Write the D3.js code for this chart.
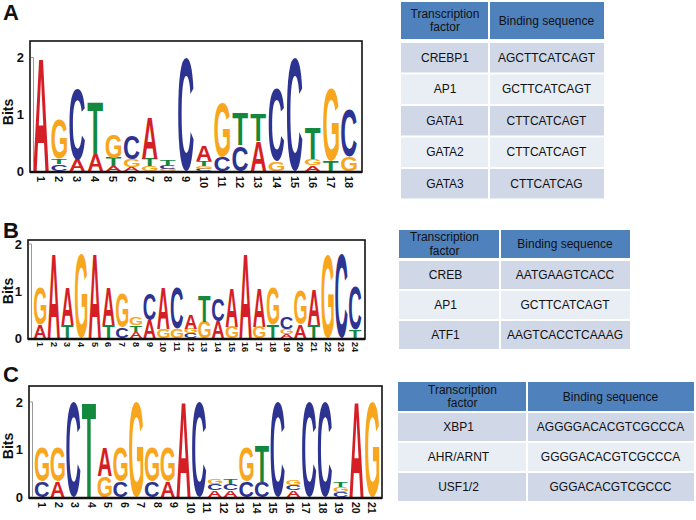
<!DOCTYPE html>
<html><head><meta charset="utf-8">
<script src="https://cdn.jsdelivr.net/npm/d3@7"></script>
<style>html,body{margin:0;padding:0;background:#fff;}svg{display:block;}</style>
</head><body>
<svg id="chart" width="696" height="520"></svg>
<script>
// ---------- DATA ----------
// Sequence logo columns, letters listed bottom -> top with height in bits
const logoA = [
  [["A",2.0]],
  [["C",0.12],["T",0.10],["G",0.70]],
  [["A",0.20],["C",1.25]],
  [["A",0.30],["T",0.91]],
  [["A",0.08],["T",0.15],["G",0.42]],
  [["A",0.06],["G",0.14],["C",0.41]],
  [["G",0.08],["T",0.13],["A",0.72]],
  [["G",0.04],["C",0.06],["T",0.08]],
  [["C",2.0]],
  [["C",0.04],["G",0.05],["T",0.08],["A",0.27]],
  [["C",0.25],["G",0.95]],
  [["C",0.45],["T",0.56]],
  [["A",0.52],["T",0.49]],
  [["G",0.17],["C",1.28]],
  [["C",2.0]],
  [["A",0.10],["G",0.12],["T",0.54]],
  [["T",0.17],["G",1.28]],
  [["G",0.25],["C",0.83]]
];
const logoB = [
  [["A",0.28],["G",0.79]],
  [["A",1.80]],
  [["T",0.28],["A",0.79]],
  [["G",1.80]],
  [["A",1.80]],
  [["T",0.28],["A",0.79]],
  [["C",0.22],["G",0.72]],
  [["A",0.13],["T",0.14],["G",0.16]],
  [["A",0.38],["C",0.57]],
  [["G",0.20],["A",0.87]],
  [["G",0.20],["C",0.87]],
  [["C",0.10],["G",0.10],["A",0.30]],
  [["G",0.35],["T",0.56]],
  [["A",0.35],["C",0.46]],
  [["G",0.24],["A",0.83]],
  [["A",1.80]],
  [["G",0.24],["A",0.83]],
  [["T",0.28],["G",0.79]],
  [["A",0.08],["G",0.10],["C",0.25]],
  [["A",0.28],["G",0.74]],
  [["T",0.28],["A",0.74]],
  [["G",1.77]],
  [["C",1.80]],
  [["T",0.17],["C",0.92]]
];
const logoC = [
  [["C",0.32],["G",0.73]],
  [["A",0.32],["G",0.73]],
  [["C",2.0]],
  [["T",2.0]],
  [["G",0.45],["A",0.60]],
  [["C",0.32],["G",0.73]],
  [["G",2.0]],
  [["C",0.32],["G",0.73]],
  [["A",0.32],["G",0.73]],
  [["A",2.0]],
  [["C",2.0]],
  [["A",0.14],["C",0.14],["G",0.10]],
  [["A",0.14],["C",0.14],["T",0.10]],
  [["C",0.32],["G",0.73]],
  [["C",0.32],["T",0.77]],
  [["C",2.0]],
  [["A",0.14],["C",0.12],["G",0.10]],
  [["C",2.0]],
  [["C",2.0]],
  [["C",0.10],["G",0.12],["T",0.10]],
  [["A",2.0]],
  [["G",2.0]]
];
const positionsA = d3.range(1, 19).map(String);
const positionsB = d3.range(1, 25).map(String);
const positionsC = d3.range(1, 22).map(String);
const bitTicks = [0, 1, 2];

const headerCols = ["Transcription\nfactor", "Binding sequence"];
const factorsA = ["CREBP1", "AP1", "GATA1", "GATA2", "GATA3"];
const sequencesA = ["AGCTTCATCAGT", "GCTTCATCAGT", "CTTCATCAGT", "CTTCATCAGT", "CTTCATCAG"];
const factorsB = ["CREB", "AP1", "ATF1"];
const sequencesB = ["AATGAAGTCACC", "GCTTCATCAGT", "AAGTCACCTCAAAG"];
const factorsC = ["XBP1", "AHR/ARNT", "USF1/2"];
const sequencesC = ["AGGGGACACGTCGCCCA", "GGGGACACGTCGCCCA", "GGGACACGTCGCCC"];

// ---------- STYLE ----------
const FONT = "'Liberation Sans', Arial, Helvetica, sans-serif";
const letterColor = {A: "#d51f26", C: "#2d3391", G: "#f8a61d", T: "#13893d"};
const svg = d3.select("#chart");

// glyph ink metrics
const ctx = document.createElement("canvas").getContext("2d");
ctx.font = "bold 100px " + FONT;
const fallback = {A:[0.5,72.4,71.6,0], C:[4,68,73,1.5], G:[4,73,73,1.5], T:[2,59,71.6,0]};
const metrics = {};
["A","C","G","T"].forEach(L => {
  const m = ctx.measureText(L);
  let l = m.actualBoundingBoxLeft, r = m.actualBoundingBoxRight, a = m.actualBoundingBoxAscent, d = m.actualBoundingBoxDescent;
  if (!(r > 0 && a > 0)) { [l, r, a, d] = fallback[L]; l = -l; }
  metrics[L] = {left: l, right: r, ascent: a, descent: d};
});

function drawLogo(cfg) {
  const g = svg.append("g");
  const x = d3.scaleBand().domain(d3.range(cfg.columns.length)).range(cfg.colRange).paddingInner(0);
  const xl = d3.scalePoint().domain(cfg.positions).range(cfg.labelRange);
  const y = d3.scaleLinear().domain([0, 2]).range([cfg.y0, cfg.y2]);
  const cw = x.bandwidth() * cfg.widthFrac;

  // letters
  cfg.columns.forEach((col, i) => {
    let acc = 0;
    col.forEach(([L, h]) => {
      const yb = y(acc), yt = y(acc + h);
      acc += h;
      const bh = yb - yt;
      if (bh < 0.5) return;
      const m = metrics[L];
      const w = m.left + m.right, hh = m.ascent + m.descent;
      const bx = x(i) + (x.bandwidth() - cw) / 2;
      g.append("text")
        .attr("transform", `translate(${bx},${yt}) scale(${cw / w},${bh / hh}) translate(${m.left},${m.ascent})`)
        .attr("font-family", FONT).attr("font-weight", "bold").attr("font-size", 100)
        .attr("fill", letterColor[L]).text(L);
    });
  });

  // frame
  g.append("rect").attr("x", cfg.left).attr("y", cfg.top)
    .attr("width", cfg.right - cfg.left).attr("height", cfg.bottom - cfg.top)
    .attr("fill", "none").attr("stroke", "#111").attr("stroke-width", 1.6);
  g.append("line").attr("x1", cfg.left).attr("x2", cfg.right).attr("y1", cfg.bottom).attr("y2", cfg.bottom)
    .attr("stroke", "#111").attr("stroke-width", 2.6);
  // inner grey y-axis line
  g.append("path").attr("d", `M${cfg.left + 1},${y(2)}H${cfg.left + 3.5}V${y(0)}`)
    .attr("fill", "none").attr("stroke", "#999").attr("stroke-width", 1);

  // y axis
  const ya = g.append("g").attr("transform", `translate(${cfg.left},0)`)
    .call(d3.axisLeft(y).tickValues(bitTicks).tickSize(0).tickPadding(6).tickFormat(d3.format("d")));
  ya.select(".domain").remove();
  ya.selectAll("text").attr("font-family", FONT).attr("font-weight", "bold").attr("font-size", 13).attr("fill", "#111");

  // x labels (rotated)
  g.selectAll(".xl").data(cfg.positions).enter().append("text")
    .attr("transform", d => `translate(${xl(d)},${cfg.bottom + cfg.labelGap}) rotate(90)`)
    .attr("text-anchor", "start").attr("dominant-baseline", "central")
    .attr("font-family", FONT).attr("font-weight", "bold").attr("font-size", cfg.labelSize)
    .attr("fill", "#111").text(d => d);

  // Bits
  g.append("text").attr("transform", `translate(${cfg.bitsX},${cfg.bitsY}) rotate(-90)`)
    .attr("text-anchor", "middle").attr("font-family", FONT).attr("font-weight", "bold")
    .attr("font-size", 14).attr("fill", "#111").text("Bits");

  // panel letter
  g.append("text").attr("x", 3).attr("y", cfg.panelY).attr("font-family", FONT)
    .attr("font-weight", "bold").attr("font-size", 22).attr("fill", "#111").text(cfg.panel);
}

drawLogo({columns: logoA, positions: positionsA, colRange: [32, 358], labelRange: [41, 349],
  left: 30, right: 362, top: 41, bottom: 172, y0: 171, y2: 57.5, widthFrac: 0.86,
  labelGap: 4, labelSize: 11, bitsX: 13, bitsY: 112, panel: "A", panelY: 20});
drawLogo({columns: logoB, positions: positionsB, colRange: [33.2, 361.9], labelRange: [40, 355],
  left: 28, right: 365, top: 240, bottom: 339, y0: 338, y2: 244, widthFrac: 0.9,
  labelGap: 3, labelSize: 9, bitsX: 13, bitsY: 291, panel: "B", panelY: 238});
drawLogo({columns: logoC, positions: positionsC, colRange: [34, 380], labelRange: [42, 372],
  left: 29, right: 382, top: 386, bottom: 498, y0: 497, y2: 402, widthFrac: 0.9,
  labelGap: 4, labelSize: 10.5, bitsX: 13, bitsY: 446, panel: "C", panelY: 382});

// ---------- TABLES ----------
function drawTable(cfg) {
  const g = svg.append("g");
  const rows = cfg.factors.map((f, i) => [f, cfg.sequences[i]]);
  const cols = [[cfg.x[0], cfg.x[1]], [cfg.x[1], cfg.x[2]]];
  // header
  cols.forEach((c, j) => {
    g.append("rect").attr("x", c[0] + (j ? 1 : 0)).attr("y", cfg.headY[0])
      .attr("width", c[1] - c[0] - 1).attr("height", cfg.headY[1] - cfg.headY[0]).attr("fill", "#4f81bd");
    const lines = headerCols[j].split("\n");
    const cy = (cfg.headY[0] + cfg.headY[1]) / 2;
    lines.forEach((t, k) => {
      g.append("text").attr("x", (c[0] + c[1]) / 2 + (j ? 0 : cfg.hdrShift || 0))
        .attr("y", cy + (k - (lines.length - 1) / 2) * 13.5)
        .attr("text-anchor", "middle").attr("dominant-baseline", "central")
        .attr("font-family", FONT).attr("font-size", 12).attr("fill", "#111").text(t);
    });
  });
  const ry = d3.scaleBand().domain(d3.range(rows.length)).range([cfg.rowTop, cfg.rowTop + rows.length * cfg.pitch]).paddingInner(0);
  rows.forEach((r, i) => {
    cols.forEach((c, j) => {
      g.append("rect").attr("x", c[0] + (j ? 1 : 0)).attr("y", ry(i))
        .attr("width", c[1] - c[0] - 1).attr("height", cfg.pitch - 2)
        .attr("fill", i % 2 === 0 ? "#d0d8e8" : "#e9edf4");
      g.append("text").attr("x", (c[0] + c[1]) / 2 + (j ? 0 : cfg.colShift || 0))
        .attr("y", ry(i) + (cfg.pitch - 2) / 2)
        .attr("text-anchor", "middle").attr("dominant-baseline", "central")
        .attr("font-family", FONT).attr("font-size", 12).attr("fill", "#111").text(r[j]);
    });
  });
}
drawTable({factors: factorsA, sequences: sequencesA, x: [401, 489, 604], headY: [2, 39], rowTop: 43, pitch: 31.5});
drawTable({factors: factorsB, sequences: sequencesB, x: [399, 500, 630], headY: [230, 258], rowTop: 261, pitch: 30, colShift: -4, hdrShift: -5});
drawTable({factors: factorsC, sequences: sequencesC, x: [398, 527, 694], headY: [382, 411], rowTop: 413, pitch: 30, colShift: -4});
</script>
</body></html>
